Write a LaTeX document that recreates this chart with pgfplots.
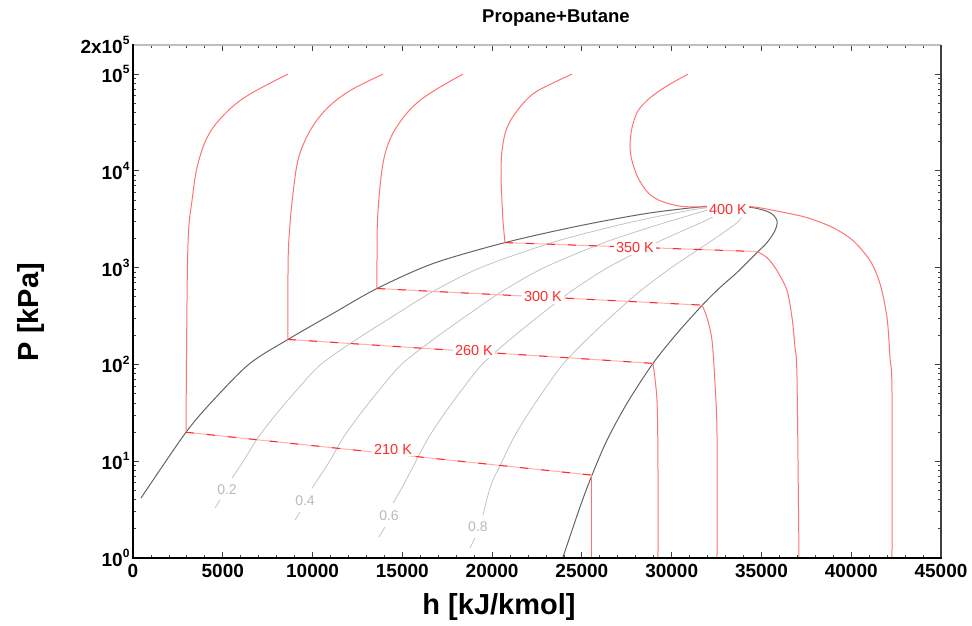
\documentclass[border=0pt]{standalone}
\usepackage{pgfplots}
\pgfplotsset{compat=1.18}
\usepackage{fontspec}
\setmainfont{Liberation Sans}
\definecolor{iso}{RGB}{255,115,115}
\definecolor{tiedark}{RGB}{255,40,40}
\definecolor{tielight}{RGB}{255,175,175}
\definecolor{dome}{RGB}{100,100,100}
\definecolor{qual}{RGB}{195,195,195}
\definecolor{qlab}{RGB}{185,185,185}
\definecolor{lab}{RGB}{255,45,45}
\newcommand\sups[1]{\raisebox{0.45em}{\fontsize{12}{12}\selectfont\bfseries #1}}
\begin{document}
\begin{tikzpicture}
\begin{axis}[
  scale only axis, width=808pt, height=513pt,
  xmin=0, xmax=45000, ymin=1, ymax=200000, ymode=log,
  axis line style={draw=none},
  clip mode=individual,
  scaled x ticks=false,
  xtick={0,5000,10000,15000,20000,25000,30000,35000,40000,45000},
  xticklabels={0,5000,10000,15000,20000,25000,30000,35000,40000,45000},
  minor x tick num=4,
  ytick={1,10,100,1000,10000,100000,200000},
  yticklabels={10\sups{0},10\sups{1},10\sups{2},10\sups{3},10\sups{4},10\sups{5},2x10\sups{5}},
  minor ytick={2,3,4,5,6,7,8,9,20,30,40,50,60,70,80,90,200,300,400,500,600,700,800,900,2000,3000,4000,5000,6000,7000,8000,9000,20000,30000,40000,50000,60000,70000,80000,90000},
  tick align=inside,
  major tick length=6pt, minor tick length=3.5pt,
  tick style={black!75, line width=0.8pt},
  ticklabel style={font=\fontsize{19}{19}\selectfont\bfseries},
  xticklabel style={yshift=-3pt},
]
% saturation dome
\addplot[dome, line width=1pt, smooth, tension=0.5] coordinates {
(445,4.16) (2952,19.93) (4622,45.8) (6516,102.6) (8632,181.4) (11138,336.4) (13589,609.2) (16708,1103) (20717,1816) (24894,2716) (28626,3638) (31689,4266) (33100,4400)
(34529,4169) (35476,3703) (35865,3062) (35754,2415) (35309,1816) (34752,1432) (33638,891) (32691,623.7) (31689,406.4) (30296,209.2) (28960,102.6) (27512,39.7) (26398,16.48) (25562,7.18) (24894,3.357) (23930,1)};
% quality lines
\addplot[qual, line width=0.8pt] coordinates {(4567,3.281) (4845,3.963)};
\addplot[qual, line width=0.8pt, smooth, tension=0.5] coordinates {(5513,6.685) (6143,10) (6982,17.78) (8035,31.62) (9190,56.23) (10456,100) (12370,177.8) (14495,316.2) (16673,562.3) (19350,1000) (23169,1778) (26164,2512) (28468,3162) (31210,3981) (33100,4400)};
\addplot[qual, line width=0.8pt] coordinates {(9022,2.466) (9300,2.981)};
\addplot[qual, line width=0.8pt, smooth, tension=0.5] coordinates {(9969,5.272) (10949,10) (11730,17.78) (12704,31.62) (13777,56.23) (14948,100) (16657,177.8) (18550,316.2) (20512,562.3) (22892,1000) (26111,1778) (28502,2512) (30251,3162) (32106,3981) (33100,4400)};
\addplot[qual, line width=0.8pt] coordinates {(13700,1.647) (14034,2.088)};
\addplot[qual, line width=0.8pt, smooth, tension=0.5] coordinates {(14480,3.690) (15050,5.623) (15755,10) (16477,17.78) (17372,31.62) (18364,56.23) (19441,100) (20944,177.8) (22606,316.2) (24350,562.3) (26434,1000) (29053,1778) (30840,2512) (32035,3162) (33002,3981) (33100,4400)};
\addplot[qual, line width=0.8pt] coordinates {(18768,1.268) (19047,1.608)};
\addplot[qual, line width=0.8pt, smooth, tension=0.5] coordinates {(19492,2.777) (19930,5.623) (20561,10) (21224,17.78) (22041,31.62) (22951,56.23) (23934,100) (25231,177.8) (26661,316.2) (28188,562.3) (29976,1000) (31995,1778) (33178,2512) (33819,3162) (33898,3981) (33100,4400)};
% isotherms, liquid side
\addplot[iso, line width=1pt, smooth, tension=0.6] coordinates {(2952,19.93) (2990,200) (3040,1200) (3120,2800) (3286,4920) (3564,10780) (4121,21980) (5012,37070) (6349,59570) (8632,100000)};
\addplot[iso, line width=1pt, smooth, tension=0.6] coordinates {(8632,181.4) (8640,1200) (8744,2800) (8911,5813) (9180,12730) (9650,21980) (10300,34510) (11138,50470) (12252,70310) (13923,100000)};
\addplot[iso, line width=1pt, smooth, tension=0.6] coordinates {(13589,609.2) (13589,1184) (13610,2800) (13720,5813) (13950,12730) (14350,21980) (15000,34510) (15816,50470) (16930,70310) (18378,100000)};
\addplot[iso, line width=1pt, smooth, tension=0.6] coordinates {(20717,1816) (20606,3062) (20530,5813) (20495,10040) (20570,17330) (20829,27860) (21386,41690) (22277,62520) (23391,80870) (24449,100000)};
% 400 K (supercritical)
\addplot[iso, line width=1pt, smooth, tension=0.5] coordinates {(30909,100000) (29739,75510) (28792,56840) (28124,41740) (27790,27860) (27679,18180) (27790,12730) (28124,8502) (28681,5954) (29349,4924) (30296,4373) (31020,4249) (31744,4249) (33100,4249) (34529,4249) (36033,3792) (37537,3289) (38985,2593) (40099,1905) (41045,1184) (41602,685.5) (41992,305.9) (42159,118.3) (42270,54.04) (42270,1)};
% isotherms, vapour side
\addplot[iso, line width=1pt] coordinates {(25562,7.18) (25562,1)};
\addplot[iso, line width=1pt, smooth, tension=0.5] coordinates {(28960,102.6) (29182,42.6) (29238,8.68) (29238,1)};
\addplot[iso, line width=1pt, smooth, tension=0.5] coordinates {(31689,410) (31967,305.9) (32246,177.1) (32413,63.8) (32524,19.45) (32524,1)};
\addplot[iso, line width=1pt, smooth, tension=0.5] coordinates {(34752,1467) (35309,1272) (35866,933.3) (36423,580.8) (36701,305.9) (36868,150.0) (36980,73.6) (37091,1)};
% tie lines
\addplot[tielight, line width=1pt] coordinates {(2952,19.93) (25562,7.18)};
\addplot[tiedark, line width=1pt, dash pattern=on 8pt off 13pt] coordinates {(2952,19.93) (25562,7.18)};
\addplot[tielight, line width=1pt] coordinates {(8632,181.4) (28960,102.6)};
\addplot[tiedark, line width=1pt, dash pattern=on 8pt off 13pt] coordinates {(8632,181.4) (28960,102.6)};
\addplot[tielight, line width=1pt] coordinates {(13589,609.2) (31689,410)};
\addplot[tiedark, line width=1pt, dash pattern=on 8pt off 13pt] coordinates {(13589,609.2) (31689,410)};
\addplot[tielight, line width=1pt] coordinates {(20717,1816) (34752,1467)};
\addplot[tiedark, line width=1pt, dash pattern=on 8pt off 13pt] coordinates {(20717,1816) (34752,1467)};
% labels
\node[fill=white, text=lab, inner sep=2pt, font=\fontsize{14.5}{15}\selectfont] at (axis cs:14480,13.3) {210 K};
\node[fill=white, text=lab, inner sep=2pt, font=\fontsize{14.5}{15}\selectfont] at (axis cs:18990,139.7) {260 K};
\node[fill=white, text=lab, inner sep=2pt, font=\fontsize{14.5}{15}\selectfont] at (axis cs:22833,503.8) {300 K};
\node[fill=white, text=lab, inner sep=2pt, font=\fontsize{14.5}{15}\selectfont] at (axis cs:27957,1613) {350 K};
\node[fill=white, text=lab, inner sep=2pt, font=\fontsize{14.5}{15}\selectfont] at (axis cs:33136,3976) {400 K};
\node[text=qlab, inner sep=1pt, font=\fontsize{14}{15}\selectfont] at (axis cs:5235,5.027) {0.2};
\node[text=qlab, inner sep=1pt, font=\fontsize{14}{15}\selectfont] at (axis cs:9579,3.872) {0.4};
\node[text=qlab, inner sep=1pt, font=\fontsize{14}{15}\selectfont] at (axis cs:14257,2.712) {0.6};
\node[text=qlab, inner sep=1pt, font=\fontsize{14}{15}\selectfont] at (axis cs:19213,2.088) {0.8};
% titles
\node[font=\fontsize{18.5}{18.5}\selectfont\bfseries, yshift=27pt] at (axis description cs:0.5235,1) {Propane+Butane};
\node[font=\fontsize{29}{29}\selectfont\bfseries] at (axis description cs:0.453,-0.0955) {h [kJ/kmol]};
\node[font=\fontsize{29}{29}\selectfont\bfseries, rotate=90] at (axis description cs:-0.1262,0.4795) {P [kPa]};
\coordinate (SW) at (rel axis cs:0,0);
\coordinate (NE) at (rel axis cs:1,1);
\end{axis}
\draw[black!25, line width=1.3pt] (SW|-NE) -- (NE);
\draw[black!75, line width=1.3pt] (NE) -- (NE|-SW);
\draw[black, line width=2.2pt, line cap=rect] (SW|-NE) -- (SW) -- (NE|-SW);
\pgfresetboundingbox
\path ([shift={(-133pt,-68pt)}]SW) rectangle ++(972pt,626pt);
\end{tikzpicture}
\end{document}
